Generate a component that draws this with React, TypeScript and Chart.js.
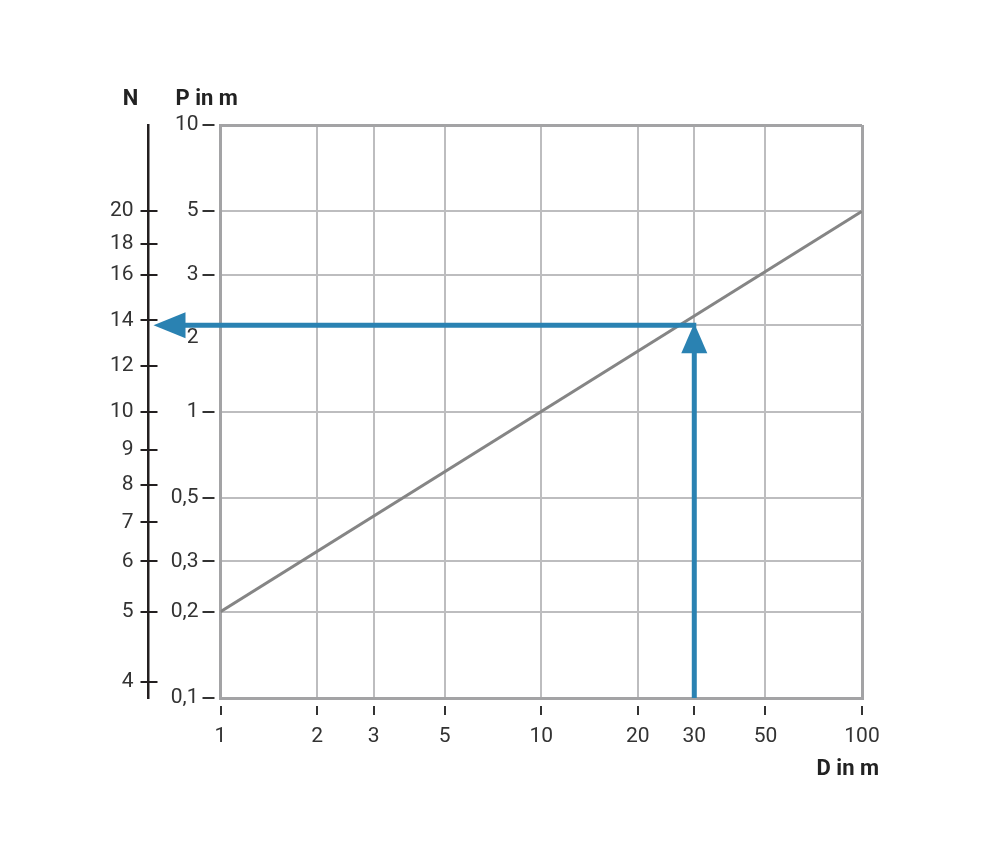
import React, { useEffect, useRef } from 'react';
import { Chart, registerables } from 'chart.js';

Chart.register(...registerables);

// ---- data ----
const dTicks = [1, 2, 3, 5, 10, 20, 30, 50, 100];
const dTickLabels = ['1', '2', '3', '5', '10', '20', '30', '50', '100'];
const pTicks = [0.1, 0.2, 0.3, 0.5, 1, 2, 3, 5, 10];
const pTickLabels = ['0,1', '0,2', '0,3', '0,5', '1', '2', '3', '5', '10'];
const nTickLabels = ['4', '5', '6', '7', '8', '9', '10', '12', '14', '16', '18', '20'];
const nTickPValues = [0.1135, 0.2, 0.3, 0.41, 0.555, 0.735, 1, 1.44, 2.08, 3, 3.85, 5];
const lineD = [1, 100];
const lineP = [0.2, 5];
const arrowD = 30;
const arrowP = 2;
const arrowPStart = 0.1;

const FONT = 'Roboto';
const TEXT = '#333333';
const GRID = '#bdbdbf';
const BORDER = '#a3a3a5';
const LINE = '#858585';
const BLUE = '#2a82b2';
const NAXIS = '#231f20';
const TICK_SIZE = 21;

const decor = {
  id: 'decor',
  afterDraw(chart: any) {
    const ctx = chart.ctx as CanvasRenderingContext2D;
    const { x, y, yN } = chart.scales;
    const ca = chart.chartArea;
    ctx.save();
    const seg = (x1: number, y1: number, x2: number, y2: number) => {
      ctx.beginPath();
      ctx.moveTo(x1, y1);
      ctx.lineTo(x2, y2);
      ctx.stroke();
    };
    // tick dashes
    ctx.strokeStyle = TEXT;
    ctx.lineWidth = 2;
    x.ticks.forEach((t: any) => {
      const px = Math.round(x.getPixelForValue(t.value));
      seg(px, ca.bottom + 8, px, ca.bottom + 17);
    });
    y.ticks.forEach((t: any) => {
      const py = Math.round(y.getPixelForValue(t.value));
      seg(ca.left - 18, py, ca.left - 6, py);
    });
    ctx.strokeStyle = NAXIS;
    const bx = yN.right;
    yN.ticks.forEach((t: any) => {
      const py = Math.round(yN.getPixelForValue(t.value));
      seg(bx - 8, py, bx + 9, py);
    });

    // arrows
    const ax = x.getPixelForValue(arrowD);
    const ay = y.getPixelForValue(arrowP);
    const ay0 = y.getPixelForValue(arrowPStart);
    ctx.strokeStyle = BLUE;
    ctx.fillStyle = BLUE;
    ctx.lineWidth = 5;
    ctx.lineCap = 'butt';
    seg(ax, ay0, ax, ay + 26);
    ctx.beginPath();
    ctx.moveTo(ax, ay - 2);
    ctx.lineTo(ax - 13, ay + 28);
    ctx.lineTo(ax + 13, ay + 28);
    ctx.closePath();
    ctx.fill();
    const tipX = bx + 5;
    seg(tipX + 30, ay, ax + 2, ay);
    ctx.beginPath();
    ctx.moveTo(tipX, ay);
    ctx.lineTo(tipX + 32, ay - 13);
    ctx.lineTo(tipX + 32, ay + 13);
    ctx.closePath();
    ctx.fill();

    // titles
    ctx.fillStyle = '#222222';
    ctx.font = `bold 22px ${FONT}`;
    ctx.textBaseline = 'middle';
    ctx.textAlign = 'center';
    ctx.fillText('N', bx - 18, ca.top - 26);
    ctx.textAlign = 'left';
    ctx.fillText('P in m', ca.left - 45, ca.top - 26);
    ctx.textAlign = 'right';
    ctx.fillText('D in m', ca.right + 17, ca.bottom + 71);
    ctx.restore();
  },
};

export default function App() {
  const ref = useRef<HTMLCanvasElement>(null);
  useEffect(() => {
    if (!ref.current) return;
    const edgeD = (c: any) => c.tick && (c.tick.value === dTicks[0] || c.tick.value === dTicks[dTicks.length - 1]);
    const edgeP = (c: any) => c.tick && (c.tick.value === pTicks[0] || c.tick.value === pTicks[pTicks.length - 1]);
    const chart = new Chart(ref.current, {
      type: 'scatter',
      data: {
        datasets: [
          {
            data: lineD.map((d, i) => ({ x: d, y: lineP[i] })),
            showLine: true,
            borderColor: LINE,
            borderWidth: 3,
            pointRadius: 0,
            xAxisID: 'x',
            yAxisID: 'y',
          },
        ],
      },
      options: {
        responsive: false,
        animation: false,
        devicePixelRatio: 1,
        layout: { padding: { left: 0, top: 125, right: 128, bottom: 99 } },
        plugins: { legend: { display: false }, tooltip: { enabled: false } },
        scales: {
          x: {
            type: 'logarithmic',
            position: 'bottom',
            min: 1,
            max: 100,
            afterBuildTicks: (s: any) => {
              s.ticks = dTicks.map((v) => ({ value: v }));
            },
            afterFit: (s: any) => {
              s.height = 70;
            },
            ticks: {
              autoSkip: false,
              maxRotation: 0,
              padding: 26,
              color: TEXT,
              font: { family: FONT, size: TICK_SIZE },
              callback: (_v: any, i: number) => dTickLabels[i],
            },
            grid: {
              drawTicks: false,
              color: (c: any) => (edgeD(c) ? BORDER : GRID),
              lineWidth: (c: any) => (edgeD(c) ? 3 : 2),
            },
            border: { display: true, color: BORDER, width: 3 },
          },
          y: {
            type: 'logarithmic',
            position: 'left',
            weight: 0,
            min: 0.1,
            max: 10,
            afterBuildTicks: (s: any) => {
              s.ticks = pTicks.map((v) => ({ value: v }));
            },
            afterFit: (s: any) => {
              s.width = 72;
            },
            ticks: {
              autoSkip: false,
              padding: 22,
              color: TEXT,
              font: { family: FONT, size: TICK_SIZE },
              callback: (v: any, i: number) => (pTicks[i] === arrowP ? ['', pTickLabels[i]] : pTickLabels[i]),
            },
            grid: {
              drawTicks: false,
              color: (c: any) => (edgeP(c) ? BORDER : GRID),
              lineWidth: (c: any) => (edgeP(c) ? 3 : 2),
            },
            border: { display: true, color: BORDER, width: 3 },
          },
          yN: {
            type: 'logarithmic',
            position: 'left',
            weight: 1,
            min: 0.1,
            max: 10,
            afterBuildTicks: (s: any) => {
              s.ticks = nTickPValues.map((v) => ({ value: v }));
            },
            afterFit: (s: any) => {
              s.width = 148.5;
            },
            ticks: {
              autoSkip: false,
              padding: 15,
              color: TEXT,
              font: { family: FONT, size: TICK_SIZE },
              callback: (_v: any, i: number) => nTickLabels[i],
            },
            grid: { drawTicks: false, drawOnChartArea: false },
            border: { display: true, color: NAXIS, width: 2.5 },
          },
        },
      },
      plugins: [decor],
    } as any);
    return () => chart.destroy();
  }, []);
  return (
    <div style={{ position: 'absolute', left: 0, top: 0, width: 990, height: 867, background: '#fff' }}>
      <canvas ref={ref} width={990} height={867} />
    </div>
  );
}
